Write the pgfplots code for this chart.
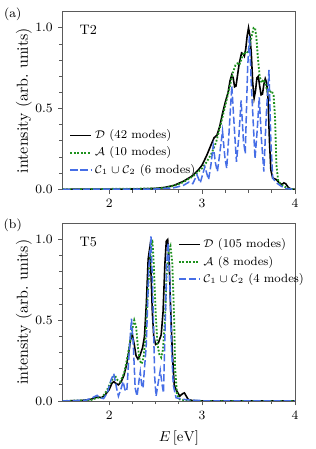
\documentclass[border=0pt]{standalone}
\usepackage{pgfplots}
\pgfplotsset{compat=1.18}
\definecolor{cgreen}{RGB}{30,145,30}
\definecolor{cblue}{RGB}{70,110,230}
\definecolor{axgray}{RGB}{90,90,90}
\pgfplotsset{
  myax/.style={
    scale only axis, width=145.65pt, height=111.35pt,
    clip mode=individual,
    xmin=1.5, xmax=4, ymin=0, ymax=1.1,
    xtick={2,3,4}, ytick={0,0.5,1},
    minor x tick num=3, minor y tick num=4,
    tick pos=left, tick align=outside,
    major tick length=2.8pt, minor tick length=2.0pt,
    axis line style={axgray, line width=0.6pt},
    every tick/.style={axgray, line width=0.5pt},
    tick label style={font=\fontsize{8}{9}\selectfont},
    yticklabel style={/pgf/number format/.cd, fixed, fixed zerofill, precision=1},
    ylabel={intensity (arb.\ units)},
    ylabel style={at={(axis description cs:-0.167,0.5)}, anchor=center, font=\fontsize{10}{12}\selectfont},
    legend cell align=left,
    legend image code/.code={\draw[#1] (0pt,0pt) -- (13pt,0pt);},
    legend style={draw=none, fill=none, inner sep=0pt, row sep=0pt,
      font=\fontsize{7.5}{8.5}\selectfont, nodes={inner sep=1.8pt}},
  },
  lD/.style={black, line width=1pt},
  lA/.style={cgreen, line width=1.15pt, dash pattern=on 1.1pt off 1.1pt},
  lC/.style={cblue, line width=0.95pt, dash pattern=on 4.5pt off 1.8pt},
}
\begin{document}
\begin{tikzpicture}
\path[use as bounding box] (0pt,0pt) rectangle (197.5pt,-281.5pt);
% ---------------- top panel
\begin{axis}[myax, at={(39.3pt,-118.7pt)}, anchor=south west,
  legend style={at={(axis description cs:0.028,0.06)}, anchor=south west}]
\addplot[lD] coordinates {
(1.5,0) (2.3,0.002) (2.5,0.006) (2.6,0.012) (2.7,0.025) (2.8,0.05) (2.9,0.085)
(2.96,0.12) (3.0,0.15) (3.05,0.21) (3.1,0.28) (3.13,0.32) (3.16,0.335) (3.19,0.39)
(3.22,0.47) (3.25,0.54) (3.28,0.6) (3.30,0.67) (3.32,0.71) (3.335,0.69) (3.35,0.635)
(3.365,0.64) (3.38,0.70) (3.40,0.78) (3.425,0.845) (3.44,0.84) (3.455,0.825) (3.47,0.87)
(3.485,0.95) (3.50,1.0) (3.515,0.95) (3.53,0.84) (3.545,0.66) (3.56,0.565) (3.575,0.61)
(3.59,0.69) (3.605,0.70) (3.62,0.64) (3.635,0.585) (3.65,0.59) (3.665,0.65) (3.68,0.685)
(3.695,0.66) (3.71,0.56) (3.725,0.30) (3.74,0.12) (3.76,0.07) (3.78,0.065) (3.80,0.06)
(3.83,0.04) (3.86,0.03) (3.88,0.04) (3.90,0.035) (3.93,0.01) (3.96,0.002) (4.0,0)};
\addlegendentry{$\mathcal{D}$ (42 modes)}
\addplot[lA] coordinates {
(1.5,0) (2.5,0.005) (2.6,0.01) (2.7,0.022) (2.8,0.045) (2.9,0.08) (3.0,0.13) (3.05,0.17)
(3.1,0.22) (3.15,0.29) (3.2,0.40) (3.25,0.52) (3.3,0.64) (3.33,0.72) (3.36,0.77) (3.38,0.78)
(3.40,0.77) (3.42,0.80) (3.45,0.85) (3.48,0.84) (3.50,0.86) (3.53,0.94) (3.555,1.0)
(3.57,1.0) (3.585,0.94) (3.60,0.82) (3.62,0.70) (3.64,0.66) (3.66,0.68) (3.68,0.66)
(3.70,0.61) (3.72,0.60) (3.75,0.61) (3.77,0.58) (3.785,0.45) (3.80,0.15) (3.82,0.05)
(3.85,0.03) (3.88,0.02) (3.92,0.005) (4.0,0)};
\addlegendentry{$\mathcal{A}$ (10 modes)}
\addplot[lC] coordinates {
(1.5,0) (2.5,0.002) (2.7,0.01) (2.80,0.025) (2.86,0.045) (2.90,0.035) (2.945,0.09)
(2.98,0.04) (3.03,0.14) (3.07,0.06) (3.095,0.15) (3.12,0.27) (3.145,0.16) (3.165,0.11)
(3.19,0.22) (3.22,0.36) (3.245,0.20) (3.265,0.13) (3.29,0.35) (3.32,0.64) (3.345,0.40)
(3.37,0.17) (3.395,0.32) (3.42,0.55) (3.445,0.30) (3.465,0.22) (3.49,0.75) (3.51,0.95)
(3.53,0.65) (3.57,0.19) (3.595,0.38) (3.615,0.57) (3.64,0.30) (3.665,0.11) (3.69,0.45)
(3.72,0.74) (3.74,0.30) (3.76,0.07) (3.80,0.04) (3.85,0.02) (3.90,0.005) (4.0,0)};
\addlegendentry{$\mathcal{C}_1\cup\mathcal{C}_2$ (6 modes)}
\node[font=\fontsize{8.6}{10}\selectfont] at (axis description cs:0.110,0.897) {T2};
\node[font=\fontsize{8}{9}\selectfont] at (axis description cs:-0.215,0.985) {(a)};
\end{axis}
% ---------------- bottom panel
\begin{axis}[myax, at={(39.3pt,-251.4pt)}, anchor=south west,
  xlabel={$E\,[\mathrm{eV}]$},
  xlabel style={at={(axis description cs:0.5,-0.206)}, anchor=center, font=\fontsize{8.6}{10}\selectfont},
  legend style={at={(axis description cs:0.495,0.93)}, anchor=north west}]
\addplot[lD] coordinates {
(1.5,0) (1.7,0.003) (1.8,0.01) (1.85,0.02) (1.88,0.025) (1.92,0.02) (1.96,0.04) (2.0,0.07)
(2.03,0.11) (2.05,0.12) (2.07,0.11) (2.10,0.10) (2.13,0.12) (2.16,0.16) (2.19,0.23)
(2.21,0.30) (2.23,0.38) (2.25,0.41) (2.27,0.35) (2.29,0.28) (2.31,0.26) (2.33,0.28)
(2.36,0.33) (2.38,0.40) (2.40,0.60) (2.42,0.88) (2.435,0.94) (2.45,0.80) (2.465,0.55)
(2.48,0.40) (2.50,0.35) (2.53,0.36) (2.56,0.41) (2.58,0.55) (2.60,0.85) (2.615,0.99)
(2.63,1.0) (2.645,0.88) (2.66,0.60) (2.68,0.30) (2.70,0.10) (2.72,0.07) (2.74,0.05)
(2.76,0.03) (2.79,0.045) (2.81,0.05) (2.83,0.03) (2.85,0.01) (2.9,0.002) (3.0,0) (4.0,0)};
\addlegendentry{$\mathcal{D}$ (105 modes)}
\addplot[lA] coordinates {
(1.5,0) (1.8,0.005) (1.87,0.02) (1.92,0.02) (1.97,0.06) (2.02,0.12) (2.06,0.16) (2.09,0.13)
(2.12,0.12) (2.16,0.17) (2.20,0.28) (2.24,0.42) (2.27,0.50) (2.29,0.46) (2.31,0.33)
(2.33,0.25) (2.35,0.23) (2.37,0.27) (2.39,0.38) (2.42,0.70) (2.45,0.95) (2.465,1.0)
(2.48,0.85) (2.50,0.55) (2.52,0.35) (2.54,0.29) (2.56,0.27) (2.58,0.32) (2.60,0.50)
(2.62,0.80) (2.64,0.93) (2.66,0.96) (2.68,0.85) (2.70,0.50) (2.71,0.20) (2.73,0.04)
(2.76,0.01) (2.85,0.002) (3.0,0) (4.0,0)};
\addlegendentry{$\mathcal{A}$ (8 modes)}
\addplot[lC] coordinates {
(1.5,0) (1.75,0.005) (1.82,0.02) (1.87,0.035) (1.90,0.02) (1.94,0.015) (1.98,0.05)
(2.02,0.13) (2.05,0.17) (2.08,0.08) (2.10,0.03) (2.13,0.08) (2.15,0.12) (2.17,0.07)
(2.19,0.06) (2.21,0.25) (2.24,0.51) (2.26,0.35) (2.28,0.08) (2.30,0.03) (2.32,0.12)
(2.335,0.18) (2.35,0.10) (2.365,0.08) (2.38,0.20) (2.40,0.35) (2.425,0.80) (2.45,1.02)
(2.47,0.65) (2.49,0.15) (2.505,0.03) (2.53,0.12) (2.55,0.19) (2.57,0.10) (2.585,0.05)
(2.60,0.40) (2.62,0.85) (2.635,0.98) (2.65,0.80) (2.67,0.35) (2.69,0.10) (2.72,0.02)
(2.80,0.01) (2.9,0.005) (3.0,0.003) (3.02,0) (4.0,0)};
\addlegendentry{$\mathcal{C}_1\cup\mathcal{C}_2$ (4 modes)}
\node[font=\fontsize{8.6}{10}\selectfont] at (axis description cs:0.110,0.897) {T5};
\node[font=\fontsize{8}{9}\selectfont] at (axis description cs:-0.215,0.99) {(b)};
\end{axis}
\end{tikzpicture}
\end{document}
